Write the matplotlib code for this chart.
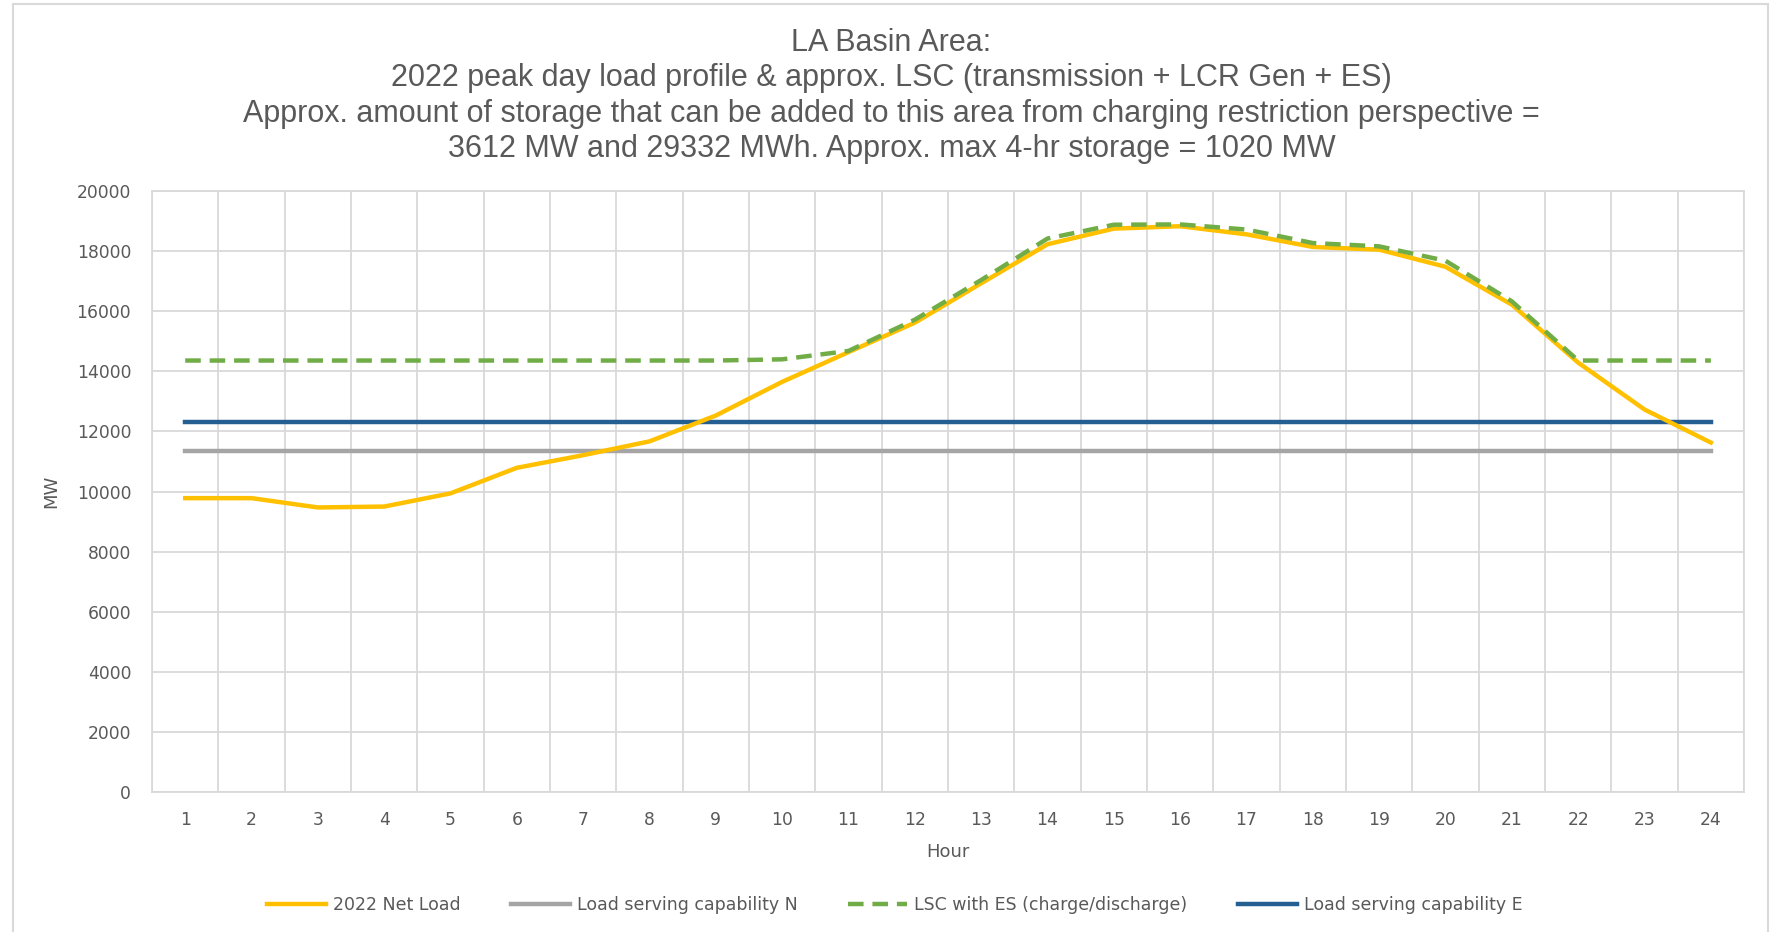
import numpy as np
import matplotlib.pyplot as plt
from matplotlib.patches import Rectangle

hours = list(range(1, 25))
net_load = [9780, 9780, 9470, 9500, 9940, 10790, 11210, 11670, 12530, 13650,
            14640, 15620, 16930, 18230, 18750, 18830, 18560, 18140, 18050, 17480,
            16220, 14290, 12730, 11630]
lsc_es = [14360, 14360, 14360, 14360, 14360, 14360, 14360, 14360, 14360, 14400,
          14680, 15720, 17040, 18420, 18880, 18890, 18720, 18270, 18160, 17680,
          16330, 14360, 14360, 14360]
cap_n = [11350] * 24
cap_e = [12300] * 24

title = ("LA Basin Area:\n"
         "2022 peak day load profile & approx. LSC (transmission + LCR Gen + ES)\n"
         "Approx. amount of storage that can be added to this area from charging restriction perspective =\n"
         "3612 MW and 29332 MWh. Approx. max 4-hr storage = 1020 MW")

grey_txt = '#595959'
grid_c = '#D9D9D9'

fig = plt.figure(figsize=(17.72, 9.32), dpi=100)
ax = fig.add_axes([0.0858, 0.1502, 0.8984, 0.6448])

# chart area border
fig.patches.append(Rectangle((13 / 1772, -0.05), (1768 - 13) / 1772, 1.05 - 4 / 932,
                             transform=fig.transFigure, fill=False,
                             edgecolor='#D9D9D9', linewidth=1.5))

ax.plot(hours, net_load, color='#FFC000', lw=3.2, label='2022 Net Load', zorder=4)
ax.plot(hours, cap_n, color='#A5A5A5', lw=3.2, label='Load serving capability N', zorder=3)
ax.plot(hours, lsc_es, color='#70AD47', lw=3.2, dashes=(3.5, 2),
        label='LSC with ES (charge/discharge)', zorder=5)
ax.plot(hours, cap_e, color='#255E91', lw=3.2, label='Load serving capability E', zorder=3)

ax.set_xlim(0.5, 24.5)
ax.set_ylim(0, 20000)
ax.set_yticks(np.arange(0, 20001, 2000))
ax.set_xticks(hours)
ax.set_xticks(np.arange(0.5, 24.6, 1), minor=True)
ax.grid(True, which='major', axis='y', color=grid_c, lw=1.3)
ax.grid(True, which='minor', axis='x', color=grid_c, lw=1.3)
ax.set_axisbelow(True)
ax.tick_params(which='both', length=0)
ax.tick_params(axis='y', labelsize=12.3, labelcolor=grey_txt, pad=15)
ax.tick_params(axis='x', labelsize=12.3, labelcolor=grey_txt, pad=14)
for s in ax.spines.values():
    s.set_color(grid_c)
    s.set_linewidth(1.3)

ax.set_xlabel('Hour', fontsize=13, color=grey_txt, labelpad=10)
ax.set_ylabel('MW', fontsize=13, color=grey_txt, labelpad=12)

fig.text(0.503, 0.970, title, ha='center', va='top', fontsize=22, color=grey_txt,
         family='Liberation Sans', linespacing=1.23)

leg = fig.legend(loc='center', bbox_to_anchor=(0.505, 0.029), ncol=4, frameon=False,
                 fontsize=12.5, handlelength=3.4, handletextpad=0.4, columnspacing=2.9)
for t in leg.get_texts():
    t.set_color(grey_txt)

fig.savefig('out.png', dpi=100)
